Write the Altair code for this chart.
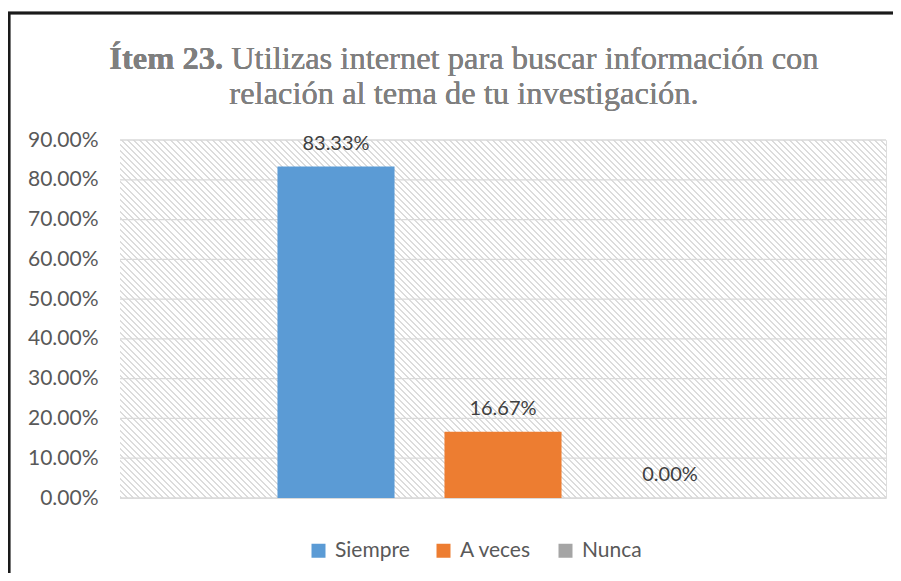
import altair as alt
import pandas as pd

categories = ["Siempre", "A veces", "Nunca"]
values = [0.8333, 0.1667, 0.0]
colors = ["#5b9bd5", "#ed7d31", "#a5a5a5"]
y_ticks = [0.0, 0.1, 0.2, 0.3, 0.4, 0.5, 0.6, 0.7, 0.8, 0.9]
title_bold = "Ítem 23."
title_rest = "Utilizas internet para buscar información con"
title_line2 = "relación al tema de tu investigación."

df = pd.DataFrame({"serie": categories, "valor": values})
grid_df = pd.DataFrame({"tick": y_ticks})

W, H = 766, 358
SANS = "Lato"
SERIF = "Liberation Serif"
TCOL = "#7f7f7f"

# diagonal hatch for plot background, built as a striped linear gradient
r = H / W
k = (1 + r) / (1 + r * r)
L = (W + H) / 2 ** 0.5
N = int(round(L / 4.3))
stops = []
lw = 0.33
for i in range(N):
    a = i / N
    b = (i + lw) / N
    c = (i + 1) / N
    stops += [
        alt.GradientStop(offset=a, color="#dcdcdc"),
        alt.GradientStop(offset=b, color="#dcdcdc"),
        alt.GradientStop(offset=b, color="#ffffff"),
        alt.GradientStop(offset=c, color="#ffffff"),
    ]
hatch = alt.LinearGradient(gradient="linear", stops=stops, x1=0, y1=1, x2=k, y2=1 - k * r)

base = alt.Chart(df)

bg = base.mark_rect(fill=hatch).encode(
    x=alt.value(0), x2=alt.value("width"), y=alt.value(0), y2=alt.value("height")
)

xscale = alt.Scale(domain=categories, paddingInner=0.299, paddingOuter=0.943)
yscale = alt.Scale(domain=[0, 0.9])

yaxis = alt.Axis(
    values=y_ticks,
    tickCount=10,
    format=".2%",
    title=None,
    domain=False,
    ticks=False,
    grid=False,
    labelOverlap=False,
    labelFont=SANS,
    labelFontSize=21,
    labelColor="#595959",
    labelPadding=22,
)

grid = alt.Chart(grid_df).mark_rule(color="#d9d9d9", strokeWidth=1.3).encode(
    y=alt.Y("tick:Q", scale=yscale, axis=yaxis)
)

bars = base.mark_bar().encode(
    x=alt.X("serie:N", scale=xscale, axis=None, sort=categories),
    y=alt.Y("valor:Q", scale=yscale, axis=yaxis),
    color=alt.Color(
        "serie:N",
        scale=alt.Scale(domain=categories, range=colors),
        sort=categories,
        legend=alt.Legend(
            title=None,
            orient="none",
            direction="horizontal",
            legendX=188,
            legendY=400,
            symbolType="square",
            symbolSize=196,
            symbolStrokeWidth=0,
            labelFont=SANS,
            labelFontSize=21,
            labelColor="#595959",
            labelOffset=6,
            columnPadding=23,
            padding=0,
        ),
    ),
)

labels = base.mark_text(
    font=SANS, fontSize=20, color="#404040", baseline="middle", dy=-23
).encode(
    x=alt.X("serie:N", scale=xscale, sort=categories),
    y=alt.Y("valor:Q", scale=yscale, axis=yaxis),
    text=alt.Text("valor:Q", format=".2%"),
)

f = 32.5
line1_w = (3.749 + 18.079) * f
cx = 464 - 120
x_start = cx - line1_w / 2
t1 = base.mark_text(
    text=title_bold, font=SERIF, fontSize=f, fontWeight="bold", color=TCOL, align="left", baseline="alphabetic"
).encode(x=alt.value(x_start), y=alt.value(69 - 140))
t2 = base.mark_text(
    text=title_rest, font=SERIF, fontSize=f, color=TCOL, align="left", baseline="alphabetic"
).encode(x=alt.value(x_start + 3.749 * f), y=alt.value(69 - 140))
t3 = base.mark_text(
    text=title_line2, font=SERIF, fontSize=f, color=TCOL, align="center", baseline="alphabetic"
).encode(x=alt.value(cx), y=alt.value(104 - 140))

frame = base.mark_rect(filled=False, stroke="#1a1a1a", strokeWidth=2.5).encode(
    x=alt.value(9 - 120), y=alt.value(13 - 140), x2=alt.value(1000), y2=alt.value(1000)
)

chart = (
    alt.layer(bg, grid, bars, labels, t1, t2, t3, frame)
    .properties(
        width=W,
        height=H,
        autosize=alt.AutoSizeParams(type="none"),
        padding={"left": 112, "top": 132, "right": 7, "bottom": 75},
    )
    .configure_view(stroke="#d9d9d9", strokeWidth=1.3)
    .configure_axisY(labelOverlap=False)
    .configure(background="white")
)

chart.save("out.html", embed_options={"renderer": "svg", "actions": False})
